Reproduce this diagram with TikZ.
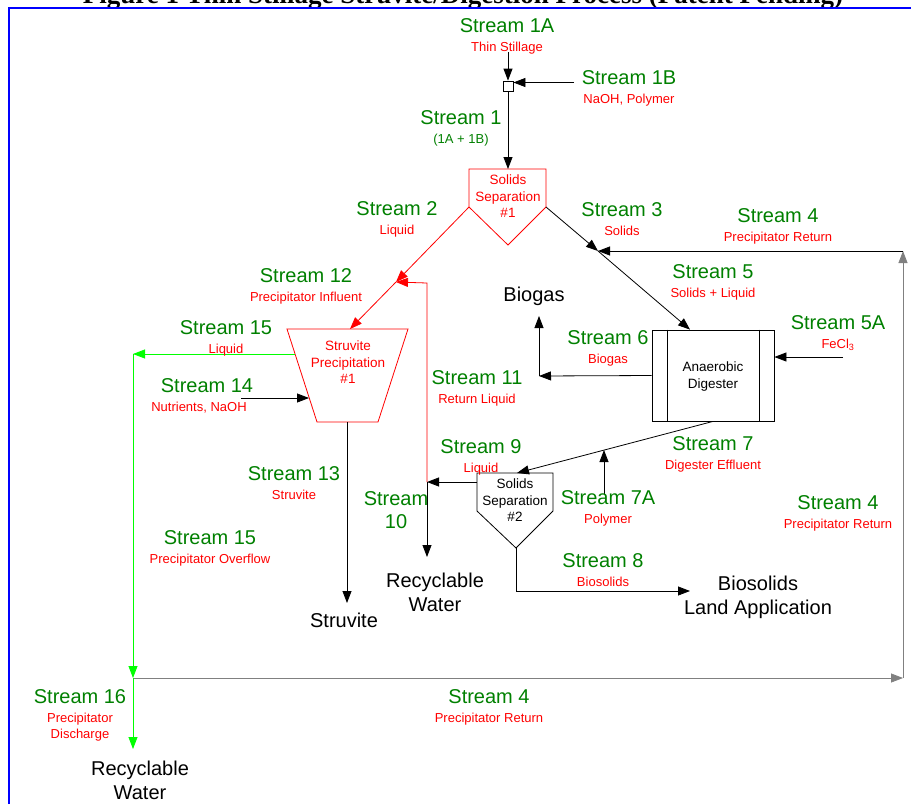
\documentclass[tikz,border=0pt]{standalone}
\usepackage{fontspec}
\setmainfont{Liberation Sans}
\newfontfamily\titlefont{Liberation Serif}
\usetikzlibrary{arrows.meta,positioning}
\definecolor{sgreen}{RGB}{0,128,0}
\definecolor{lgreen}{RGB}{0,255,0}

\begin{document}
\begin{tikzpicture}[x=1pt,y=-1pt,
   >={Triangle[length=12pt,width=9pt]},
   flow/.style={->,line width=0.8pt},
   stm/.style={text=sgreen,font=\fontsize{20}{23}\selectfont,inner sep=0pt,
      text height=14pt,text depth=0pt,align=center},
   sub/.style={text=red,font=\fontsize{13}{16}\selectfont,inner sep=0pt,
      text height=9.3pt,text depth=0pt},
   subtwo/.style={text=red,font=\fontsize{13}{16}\selectfont,inner sep=0pt,align=center},
   big/.style={font=\fontsize{20}{24}\selectfont,inner sep=0pt,align=center,anchor=north},
   unit/.style={font=\fontsize{13.5}{16.5}\selectfont,inner sep=0pt,align=center,anchor=north}]
\useasboundingbox (0,0) rectangle (911,804);

% title and frame
\node[font=\titlefont\bfseries\fontsize{27}{30}\selectfont,anchor=base] (title) at (463,3)
   {Figure 1 Thin Stillage Struvite/Digestion Process (Patent Pending)};
\draw[blue,line width=2pt] (9,804) -- (9,7.5) -- (911,7.5);

% units
\node[draw,minimum size=10pt,inner sep=0pt,line width=0.8pt] (mix) at (508,86) {};

\coordinate (ss1tl) at (469,169); \coordinate (ss1tr) at (546,169);
\coordinate (ss1r) at (546,207);  \coordinate (ss1b) at (508,245);
\coordinate (ss1l) at (469,207);  \coordinate (ss1t) at (508,169);
\draw[red,line width=0.8pt] (ss1tl) -- (ss1tr) -- (ss1r) -- (ss1b) -- (ss1l) -- cycle;
\node[unit,text=red] (ss1txt) at (508,175) {Solids\\Separation\\\#1};

\coordinate (sptl) at (287,329); \coordinate (sptr) at (408,329);
\coordinate (spbr) at (378,422); \coordinate (spbl) at (317,422);
\coordinate (spt) at (350,329);  \coordinate (spb) at (347,422);
\coordinate (spin) at (309,398); \coordinate (spout) at (295,354);
\draw[red,line width=0.8pt] (sptl) -- (sptr) -- (spbr) -- (spbl) -- cycle;
\node[unit,text=red] (sptxt) at (348,341) {Struvite\\Precipitation\\\#1};

\node[draw,line width=0.8pt,minimum width=122pt,minimum height=91pt,inner sep=0pt] (dig) at (713,375.5) {};
\draw[line width=0.8pt] ([xshift=16pt]dig.north west) -- ([xshift=16pt]dig.south west)
   ([xshift=-15pt]dig.north east) -- ([xshift=-15pt]dig.south east);
\node[unit] (digtxt) at (713,362) {Anaerobic\\Digester};

\coordinate (ss2tl) at (477,473); \coordinate (ss2tr) at (553,473);
\coordinate (ss2r) at (553,511);  \coordinate (ss2b) at (516,548);
\coordinate (ss2l) at (477,511);  \coordinate (ss2t) at (517,473);
\draw[line width=0.8pt] (ss2tl) -- (ss2tr) -- (ss2r) -- (ss2b) -- (ss2l) -- cycle;
\node[unit] (ss2txt) at (515,479) {Solids\\Separation\\\#2};

% end points and bends
\coordinate (in1a) at (508,52);
\coordinate (in1b) at (574,82.5);
\coordinate (j2) at (396,282);
\coordinate (j3) at (598,251);
\coordinate (c11) at (427,283);
\coordinate (j9) at (427,482);
\coordinate (out10) at (427,557);
\coordinate (in5a) at (843,357);
\coordinate (c6) at (539,376);
\coordinate (out6) at (539,316);
\coordinate (j7a) at (604,450);
\coordinate (in7a) at (604,495);
\coordinate (c8) at (516,591);
\coordinate (out8) at (690,591);
\coordinate (out13) at (347,603);
\coordinate (in14) at (241,398);
\coordinate (c15) at (133,354);
\coordinate (j16) at (133,678);
\coordinate (out16) at (133,749);
\coordinate (c4r) at (903,678);
\coordinate (c4t) at (903,251);

% connectors
\draw[flow] (in1a) -- (mix.north);
\draw[flow] (in1b) -- ([yshift=3.5pt]mix.east);
\draw[flow] (mix.south) -- (ss1t);
\draw[flow,red] (ss1l) -- (j2);
\draw[flow,red] (j2) -- (spt);
\draw[flow] (ss1r) -- (j3);
\draw[flow] (j3) -- ([xshift=-23pt]dig.north);
\draw[flow,gray] (j16) -- (c4r);
\draw[flow,gray] (c4r) -- (c4t);
\draw[flow] (c4t) -- (j3);
\draw[flow] (in5a) -- ([yshift=18.5pt]dig.east);
\draw[flow] (dig.west) -- (c6);
\draw[flow] (c6) -- (out6);
\draw[flow] (dig.south) -- (ss2t);
\draw[flow] (in7a) -- (j7a);
\draw[flow] (ss2l |- j9) -- (j9);
\draw[flow,red] (j9) -- (c11) -- (j2);
\draw[flow] (j9) -- (out10);
\draw[flow] (ss2b) -- (c8) -- (out8);
\draw[flow] (spb) -- (out13);
\draw[flow] (in14) -- (spin);
\draw[flow,lgreen] (spout) -- (c15);
\draw[flow,lgreen] (c15) -- (j16);
\draw[flow,lgreen] (j16) -- (out16);

% stream labels
\node[stm] (s1a) at (507,25) {Stream 1A};
\node[sub,below=9.3pt of s1a] (s1ad) {Thin Stillage};
\node[stm] (s1b) at (629,77) {Stream 1B};
\node[sub,below=9.3pt of s1b] (s1bd) {NaOH, Polymer};
\node[stm] (s1) at (461,117) {Stream 1};
\node[sub,text=sgreen,below=9.3pt of s1] (s1d) {(1A + 1B)};
\node[stm] (s2) at (397,208) {Stream 2};
\node[sub,below=9.3pt of s2] (s2d) {Liquid};
\node[stm] (s3) at (622,209) {Stream 3};
\node[sub,below=9.3pt of s3] (s3d) {Solids};
\node[stm] (s4a) at (778,215) {Stream 4};
\node[sub,below=9.3pt of s4a] (s4ad) {Precipitator Return};
\node[stm] (s5) at (713,271) {Stream 5};
\node[sub,below=9.3pt of s5] (s5d) {Solids + Liquid};
\node[stm] (s5a) at (838,322) {Stream 5A};
\node[sub,below=9.3pt of s5a] (s5ad) {FeCl\textsubscript{3}};
\node[stm] (s6) at (608,337) {Stream 6};
\node[sub,below=9.3pt of s6] (s6d) {Biogas};
\node[stm] (s11) at (477,377) {Stream 11};
\node[sub,below=9.3pt of s11] (s11d) {Return Liquid};
\node[stm] (s12) at (306,275) {Stream 12};
\node[sub,below=9.3pt of s12] (s12d) {Precipitator Influent};
\node[stm] (s15a) at (226,327) {Stream 15};
\node[sub,below=9.3pt of s15a] (s15ad) {Liquid};
\node[stm] (s14) at (207,385) {Stream 14};
\node[sub,below=9.3pt of s14,xshift=-8pt] (s14d) {Nutrients, NaOH};
\node[stm] (s7) at (713,443) {Stream 7};
\node[sub,below=9.3pt of s7] (s7d) {Digester Effluent};
\node[stm] (s9) at (481,446) {Stream 9};
\node[sub,below=9.3pt of s9] (s9d) {Liquid};
\node[stm] (s13) at (294,473) {Stream 13};
\node[sub,below=9.3pt of s13] (s13d) {Struvite};
\node[stm,text height=,anchor=north] (s10) at (396,491) {Stream\\10};
\node[stm] (s7a) at (608,497) {Stream 7A};
\node[sub,below=9.3pt of s7a] (s7ad) {Polymer};
\node[stm] (s4b) at (838,502) {Stream 4};
\node[sub,below=9.3pt of s4b] (s4bd) {Precipitator Return};
\node[stm] (s15b) at (210,537) {Stream 15};
\node[sub,below=9.3pt of s15b] (s15bd) {Precipitator Overflow};
\node[stm] (s8) at (603,560) {Stream 8};
\node[sub,below=9.3pt of s8] (s8d) {Biosolids};
\node[stm] (s4c) at (489,696) {Stream 4};
\node[sub,below=9.3pt of s4c] (s4cd) {Precipitator Return};
\node[stm] (s16) at (80,696) {Stream 16};
\node[subtwo,anchor=north,below=9.3pt of s16] (s16d) {Precipitator\\Discharge};

% products
\node[big] (gas) at (534,287) {Biogas};
\node[big] (water1) at (435,573) {Recyclable\\Water};
\node[big] (struv) at (344,613) {Struvite};
\node[big] (land) at (758,576) {Biosolids\\Land Application};
\node[big] (water2) at (140,761) {Recyclable\\Water};
\end{tikzpicture}
\end{document}
